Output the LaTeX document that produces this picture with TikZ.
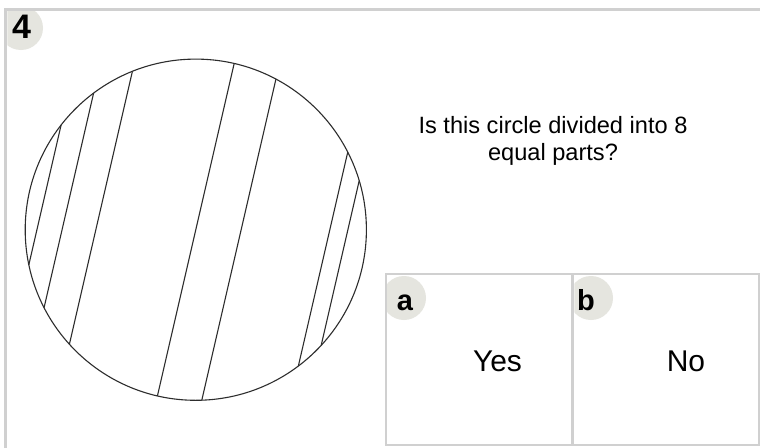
\documentclass[tikz,border=0pt]{standalone}
\usepackage{fontspec}
\setmainfont{Liberation Sans}
\usetikzlibrary{calc}
\definecolor{framegray}{RGB}{208,208,208}
\definecolor{badgegray}{RGB}{229,229,223}
\definecolor{inkgray}{RGB}{45,45,45}
\tikzset{
  framelines/.style={draw=framegray,line width=3.3pt},
  ansbox/.style={draw=framegray,line width=2pt,inner sep=0pt,minimum width=185.5pt,minimum height=170.8pt},
  badge/.style={fill=badgegray},
  badgetext/.style={inner sep=0pt,anchor=base,font=\fontsize{29}{34}\selectfont\bfseries},
  bigbadgetext/.style={inner sep=0pt,anchor=base,font=\fontsize{34}{40}\selectfont\bfseries},
  answertext/.style={inner sep=0pt,anchor=base,font=\fontsize{30}{36}\selectfont},
  questiontext/.style={inner sep=0pt,anchor=base,font=\fontsize{23.6}{27}\selectfont},
  rim/.style={draw=inkgray,line width=1.1pt},
  chordline/.style={draw=inkgray,line width=1.1pt}
}
\begin{document}
\begin{tikzpicture}[x=1pt,y=-1pt]
\useasboundingbox (0,0) rectangle (760,447);
\fill[white] (0,0) rectangle (760,447);
% badge "4"
\begin{scope}
  \clip (7.3,11.4) rectangle (760,447);
  \fill[badge] (21,28) circle (22pt);
\end{scope}
\draw[framelines] (5.6,450) -- (5.6,9.7) -- (765,9.7);
\node[bigbadgetext] (num) at (21.5,38) {4};
% circle and chords
\coordinate (C) at (195.8,229.7);
\draw[rim] (C) circle (170.6pt);
\foreach \p in {-154.8,-130.3,-97.4,0,44.2,130.6,148.2}{
  \draw[chordline] ($(C)+({-13+acos(\p/170.6)}:170.6pt)$) -- ($(C)+({-13-acos(\p/170.6)}:170.6pt)$);
}
% question
\node[questiontext] (q1) at (553,133.3) {Is this circle divided into 8};
\node[questiontext] (q2) at (553,160) {equal parts?};
% answer boxes
\begin{scope}
  \clip (387,274.7) rectangle (570.5,443.5);
  \fill[badge] (404,298) circle (22pt);
\end{scope}
\begin{scope}
  \clip (574.3,274.7) rectangle (760,443.5);
  \fill[badge] (591,298) circle (22pt);
\end{scope}
\node[ansbox] (boxa) at (478.75,359.1) {};
\node[ansbox] (boxb) at (666.05,359.1) {};
\node[badgetext] (la) at (405,310) {a};
\node[badgetext] (lb) at (586,310) {b};
\node[answertext] (ya) at (497.5,371.7) {Yes};
\node[answertext] (nb) at (686,371.7) {No};
\end{tikzpicture}
\end{document}
